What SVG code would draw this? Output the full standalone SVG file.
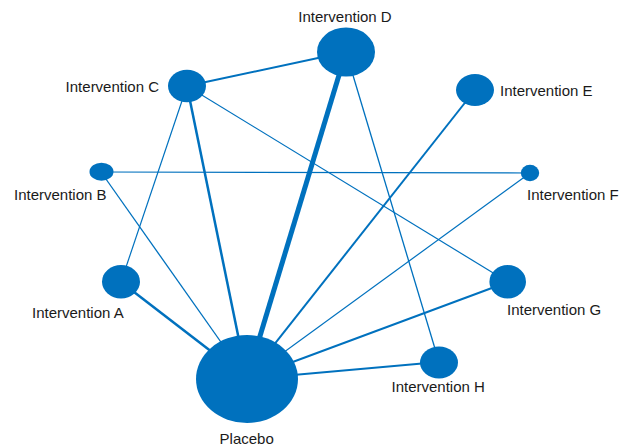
<svg xmlns="http://www.w3.org/2000/svg" width="632" height="447" viewBox="0 0 632 447">
<style>
.e{stroke:#0071BE;fill:none;stroke-linecap:butt}
.n{fill:#0071BE}
.t{font-family:"Liberation Sans",Arial,sans-serif;font-size:15px;fill:#1a1a1a}
</style>
<rect width="632" height="447" fill="#fff"/>
<g id="edges">
<line class="e" x1="187" y1="86" x2="346" y2="52" stroke-width="2"/>
<line class="e" x1="346" y1="52" x2="247" y2="379" stroke-width="5"/>
<line class="e" x1="346" y1="52" x2="439" y2="362" stroke-width="1.3"/>
<line class="e" x1="187" y1="86" x2="247" y2="379" stroke-width="2.5"/>
<line class="e" x1="187" y1="86" x2="121" y2="282" stroke-width="1.2"/>
<line class="e" x1="187" y1="86" x2="508" y2="282" stroke-width="1.2"/>
<line class="e" x1="475" y1="90" x2="247" y2="379" stroke-width="2"/>
<line class="e" x1="101" y1="172" x2="530" y2="173" stroke-width="1.2"/>
<line class="e" x1="101" y1="172" x2="247" y2="379" stroke-width="1.3"/>
<line class="e" x1="530" y1="173" x2="247" y2="379" stroke-width="1.2"/>
<line class="e" x1="121" y1="282" x2="247" y2="379" stroke-width="2.5"/>
<line class="e" x1="508" y1="282" x2="247" y2="379" stroke-width="2"/>
<line class="e" x1="439" y1="362" x2="247" y2="379" stroke-width="2"/>
</g>
<g id="nodeD"><ellipse class="n" cx="346" cy="52" rx="29" ry="24.5"/><text class="t" x="345" y="22" text-anchor="middle">Intervention D</text></g>
<g id="nodeC"><ellipse class="n" cx="187" cy="86" rx="19" ry="16.3"/><text class="t" x="159" y="92" text-anchor="end">Intervention C</text></g>
<g id="nodeE"><ellipse class="n" cx="475" cy="90" rx="19" ry="16"/><text class="t" x="500" y="96">Intervention E</text></g>
<g id="nodeB"><ellipse class="n" cx="101.5" cy="171.7" rx="12" ry="9"/><text class="t" x="14" y="199.5">Intervention B</text></g>
<g id="nodeF"><ellipse class="n" cx="530" cy="173" rx="9.2" ry="8.3"/><text class="t" x="527" y="199.5">Intervention F</text></g>
<g id="nodeA"><ellipse class="n" cx="121" cy="281.7" rx="19" ry="16.7"/><text class="t" x="32" y="318">Intervention A</text></g>
<g id="nodeG"><ellipse class="n" cx="507.7" cy="281.7" rx="18.3" ry="16.7"/><text class="t" x="507" y="314.5">Intervention G</text></g>
<g id="nodeH"><ellipse class="n" cx="439" cy="362.5" rx="19" ry="16"/><text class="t" x="391.5" y="392">Intervention H</text></g>
<g id="nodePlacebo"><ellipse class="n" cx="247" cy="379" rx="51" ry="44"/><text class="t" x="246.7" y="443.5" text-anchor="middle">Placebo</text></g>
</svg>
